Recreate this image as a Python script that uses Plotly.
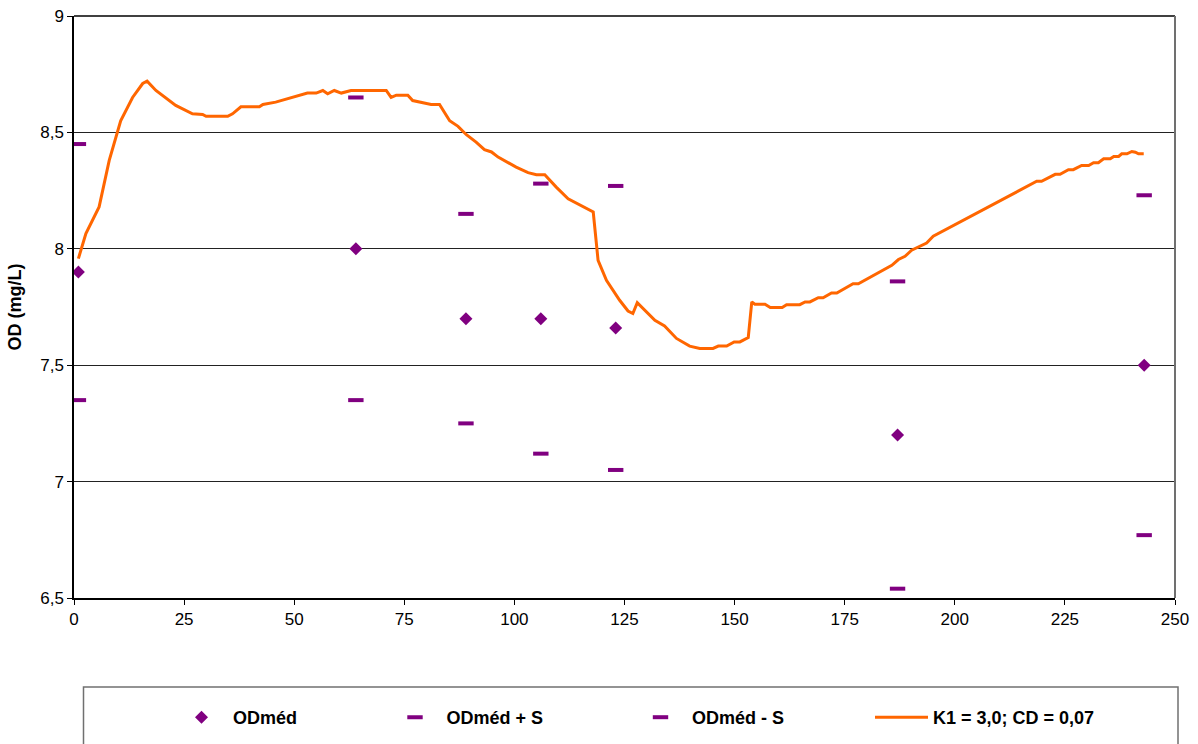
import plotly.graph_objects as go

# Sampling days and mean dissolved oxygen with +/- one standard deviation
days = [1, 64, 89, 106, 123, 187, 243]
od_mean = [7.9, 8.0, 7.7, 7.7, 7.66, 7.2, 7.5]
od_plus_s = [8.45, 8.65, 8.15, 8.28, 8.27, 7.86, 8.23]
od_minus_s = [7.35, 7.35, 7.25, 7.12, 7.05, 6.54, 6.77]

# Simulated dissolved oxygen (K1 = 3,0; CD = 0,07)
sim_day = [1, 2.7, 5.7, 6.9, 8, 10.6, 13.3, 15.6, 16.6, 18.6, 19.6, 21.3, 23.1, 26.9, 29.2,
           30, 34.9, 36, 37.9, 42.1, 42.9, 45.8, 49.6, 53, 55, 56.5, 57.6, 59.1, 60.7, 62.9,
           70.9, 72, 73.2, 75.8, 76.9, 79.6, 81.1, 83, 85.3, 87.2, 89.1, 91.3, 93.2, 94.8, 96.3,
           100.4, 103.1, 105, 106.9, 109.5, 112.2, 117.9, 119, 120.9, 123.9, 125.8, 126.9, 127.9,
           131.9, 134.1, 136.8, 139.8, 142.1, 145.1, 146.3, 148.2, 149.9, 151.2, 153.1, 153.9,
           154.6, 156.9, 158.1, 160.8, 161.8, 164.8, 166, 167.1, 169, 170.1, 172, 173.2, 175.4,
           176.9, 178.1, 185.7, 187.2, 188.7, 190.2, 193.6, 195.1, 218.6, 219.7, 222.8, 223.9,
           225.8, 226.9, 228.8, 230.4, 231.5, 232.6, 233.8, 235.3, 236.1, 237.2, 237.9, 239.1,
           240.2, 241, 241.7, 242.9]
sim_od = [7.958, 8.065, 8.18, 8.28, 8.38, 8.55, 8.65, 8.71, 8.72, 8.68, 8.666, 8.645, 8.616, 8.58,
          8.577, 8.569, 8.569, 8.58, 8.61, 8.61, 8.62, 8.63, 8.65, 8.669, 8.669, 8.68, 8.666, 8.68,
          8.669, 8.68, 8.68, 8.65, 8.66, 8.66, 8.637, 8.626, 8.62, 8.62, 8.55, 8.526, 8.49, 8.458,
          8.426, 8.416, 8.394, 8.351, 8.327, 8.318, 8.318, 8.265, 8.215, 8.158, 7.95, 7.865, 7.779,
          7.733, 7.722, 7.769, 7.693, 7.669, 7.615, 7.582, 7.572, 7.572, 7.582, 7.582, 7.60, 7.60,
          7.619, 7.772, 7.762, 7.762, 7.748, 7.748, 7.76, 7.76, 7.772, 7.772, 7.79, 7.79, 7.81,
          7.81, 7.833, 7.85, 7.85, 7.929, 7.954, 7.968, 7.994, 8.025, 8.054, 8.29, 8.29, 8.32,
          8.32, 8.34, 8.34, 8.358, 8.358, 8.37, 8.37, 8.387, 8.387, 8.397, 8.397, 8.408, 8.408,
          8.418, 8.415, 8.408, 8.408]

W, H = 1198, 744
ML, MR, MT, MB = 74, 23, 16, 146
PW, PH = W - ML - MR, H - MT - MB

PURPLE = "#800080"
ORANGE = "#FF6600"
FONT = "Arial, Liberation Sans, sans-serif"


def px_x(p):
    return (p - ML) / PW


def px_y(p):
    return (H - MB - p) / PH


fig = go.Figure()
fig.add_trace(go.Scatter(
    x=days, y=od_mean, mode="markers", name="ODméd", legend="legend", showlegend=True,
    marker=dict(symbol="diamond", size=10, color=PURPLE)))
fig.add_trace(go.Scatter(
    x=days, y=od_plus_s, mode="markers", name="ODméd + S", legend="legend2", showlegend=True,
    marker=dict(symbol="line-ew", size=11, color=PURPLE, line=dict(width=4, color=PURPLE))))
fig.add_trace(go.Scatter(
    x=days, y=od_minus_s, mode="markers", name="ODméd - S", legend="legend3", showlegend=True,
    marker=dict(symbol="line-ew", size=11, color=PURPLE, line=dict(width=4, color=PURPLE))))
fig.add_trace(go.Scatter(
    x=sim_day, y=sim_od, mode="lines", name="K1 = 3,0; CD = 0,07", legend="legend4",
    showlegend=True, line=dict(color=ORANGE, width=3)))

legend_font = dict(family=FONT, size=18, color="black", weight="bold")
ly = 1 - 717.5 / H


def legend_at(px):
    return dict(orientation="h", xref="container", yref="container", x=px / W, y=ly,
                xanchor="left", yanchor="middle", bgcolor="rgba(0,0,0,0)",
                font=legend_font, itemwidth=53)


fig.update_layout(
    width=W, height=H,
    showlegend=True,
    margin=dict(l=ML, r=MR, t=MT, b=MB, autoexpand=False),
    paper_bgcolor="white", plot_bgcolor="white",
    separators=", ",
    font=dict(family=FONT, size=17, color="black"),
    xaxis=dict(range=[0, 250], dtick=25, tick0=0, showgrid=False, zeroline=False,
               showline=True, linecolor="black", linewidth=1.5,
               ticks="outside", ticklen=5, tickcolor="black",
               tickfont=dict(size=17)),
    yaxis=dict(range=[6.5, 9], dtick=0.5, tick0=6.5, showgrid=True, gridcolor="#222222",
               gridwidth=1, zeroline=False, showline=True, linecolor="black", linewidth=1.5,
               ticks="outside", ticklen=5, tickcolor="black", tickfont=dict(size=17),
               title=dict(text="OD (mg/L)", font=dict(size=18, weight="bold"), standoff=14)),
    legend=legend_at(170),
    legend2=legend_at(383.5),
    legend3=legend_at(629),
    legend4=legend_at(870),
    shapes=[
        # frame of the plot area (top and right)
        dict(type="line", xref="paper", yref="paper", x0=0, x1=1, y0=1, y1=1,
             line=dict(color="black", width=1.5)),
        dict(type="line", xref="paper", yref="paper", x0=1, x1=1, y0=0, y1=1,
             line=dict(color="#707070", width=2)),
        # legend box
        dict(type="rect", xref="paper", yref="paper",
             x0=px_x(83.5), x1=px_x(1178), y0=px_y(770), y1=px_y(687),
             line=dict(color="#707070", width=1.5), fillcolor="rgba(0,0,0,0)", layer="below"),
    ],
)

fig.write_html("out.html")
